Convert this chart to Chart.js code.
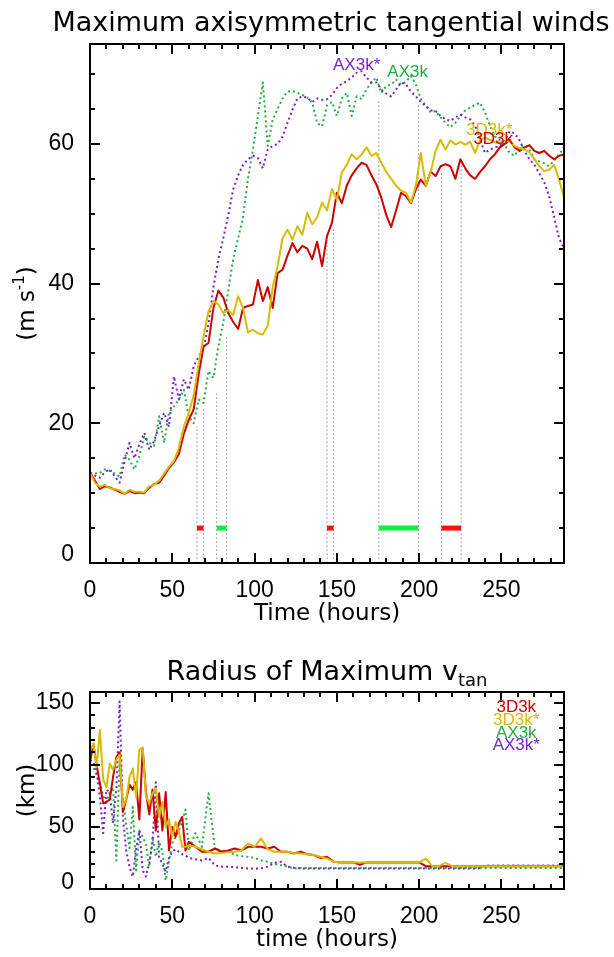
<!DOCTYPE html>
<html>
<head>
<meta charset="utf-8">
<title>Vientos tangenciales máximos</title>
<script src="https://cdn.jsdelivr.net/npm/chart.js@4.4.1/dist/chart.umd.min.js"></script>
<style>
  html, body { margin: 0; padding: 0; background: #fff; }
  #contenedor { position: relative; width: 614px; height: 957px; }
  canvas { position: absolute; left: 0; }
</style>
</head>
<body>
<div id="contenedor">
  <canvas id="graficoVientos" width="614" height="640" style="top:0"></canvas>
  <canvas id="graficoRadio" width="614" height="317" style="top:640px"></canvas>
</div>
<script>
// ---------------- Datos: panel superior (viento máximo, m/s) ----------------
const horasV = [
  0, 3, 6, 9, 12, 15, 18, 21, 24, 27,
  30, 33, 36, 39, 42, 45, 48, 51, 54, 57,
  60, 63, 66, 69, 72, 75, 78, 81, 84, 87,
  90, 93, 96, 99, 102, 105, 108, 111, 114, 117,
  120, 123, 126, 129, 132, 135, 138, 141, 144, 147,
  150, 153, 156, 159, 162, 165, 168, 171, 174, 177,
  180, 183, 186, 189, 192, 195, 198, 201, 204, 207,
  210, 213, 216, 219, 222, 225, 228, 231, 234, 237,
  240, 243, 246, 249, 252, 255, 258, 261, 264, 267,
  270, 273, 276, 279, 282, 285, 288
];
const v3D3k = [
  12.9, 11.8, 10.6, 11.0, 10.8, 10.5, 10.2, 9.9, 10.3, 10.0,
  10.1, 10.0, 10.8, 11.3, 11.5, 12.5, 13.6, 14.4, 15.6, 18.5,
  20.5, 22.0, 27.0, 31.0, 31.5, 36.5, 39.0, 38.0, 35.8, 34.5,
  33.5, 36.5, 36.8, 37.0, 40.5, 37.5, 39.5, 36.5, 41.5, 42.0,
  44.0, 45.8, 44.5, 45.4, 45.0, 43.5, 46.0, 42.5, 46.8, 48.7,
  53.0, 51.5, 54.0, 55.5, 56.5, 57.3, 57.0, 55.5, 54.2, 52.3,
  49.8, 48.1, 50.5, 53.0, 52.5, 51.5, 53.5, 54.9, 54.0, 56.0,
  55.4, 56.8, 57.1, 56.8, 55.0, 57.8, 56.5, 55.5, 55.0, 56.0,
  56.8, 57.8, 58.5, 59.5, 60.0, 60.6, 59.5, 59.0, 59.5, 59.8,
  59.0, 58.7, 59.0, 58.3, 57.8, 58.3, 58.5
];
const v3D3kEst = [
  12.9, 11.5, 10.9, 11.2, 10.7, 10.6, 10.4, 9.9, 10.5, 10.2,
  10.2, 10.1, 11.0, 11.2, 11.8, 12.8, 13.8, 14.6, 16.5, 19.5,
  21.5, 24.0, 28.5, 32.5, 36.0, 37.5, 37.0, 35.8, 36.2, 35.5,
  38.2, 36.5, 33.0, 33.4, 32.9, 32.7, 34.0, 39.5, 42.5, 46.5,
  47.7, 46.3, 48.2, 47.0, 50.1, 48.5, 49.5, 51.6, 50.5, 53.5,
  52.0, 55.9, 57.0, 58.5, 57.8, 58.5, 59.5, 58.3, 58.7, 57.3,
  56.0, 55.0, 54.0, 53.3, 53.0, 51.6, 54.0, 58.7, 54.0, 56.0,
  59.0, 60.6, 59.2, 60.5, 59.9, 60.3, 59.9, 60.3, 58.7, 60.5,
  60.9, 60.6, 60.2, 60.2, 60.3, 60.4, 59.7, 59.4, 59.2, 58.8,
  57.8, 56.8, 56.1, 56.3, 57.0, 54.9, 52.3
];
const vAX3k = [
  12.9, 12.8, 12.9, 13.4, 13.2, 12.8, 12.4, 15.5, 14.8, 13.4,
  15.3, 18.1, 17.2, 16.8, 21.0, 17.2, 21.5, 22.4, 23.4, 24.8,
  21.0, 20.0, 23.4, 22.9, 27.5, 26.5, 31.0, 34.5, 39.0, 43.5,
  46.5, 49.5, 55.0, 59.2, 64.0, 68.8, 59.7, 63.5, 65.0, 66.5,
  67.5, 67.6, 67.3, 67.0, 66.6, 65.9, 63.0, 62.5, 65.5, 66.0,
  64.0, 66.5, 67.3, 64.0, 66.8, 66.4, 67.8, 68.8, 69.5, 67.3,
  68.3, 68.5, 69.2, 68.5, 68.9, 69.7, 68.5, 66.4, 65.5, 64.5,
  64.7, 63.8, 63.0, 62.4, 63.0, 64.0, 64.8, 65.2, 65.6, 65.9,
  64.5, 62.6, 61.1, 60.5, 59.8, 58.7, 58.3, 59.5, 59.8, 59.2,
  57.8, 57.5, 57.2, 56.8, 57.6, 58.5, 59.5
];
const vAX3kEst = [
  12.9, 12.5, 12.2, 13.0, 13.4, 12.4, 11.5, 14.5, 17.2, 15.0,
  17.0, 18.6, 16.2, 17.5, 19.6, 21.5, 19.5, 26.7, 23.4, 26.3,
  24.8, 28.2, 29.5, 30.6, 34.3, 39.5, 43.5, 46.5, 49.8, 53.5,
  55.5, 57.0, 57.8, 58.3, 58.0, 56.5, 59.2, 59.7, 60.0, 61.0,
  63.0, 64.9, 66.5, 66.8, 66.6, 66.0, 66.5, 66.3, 66.4, 67.0,
  68.0, 68.6, 69.0, 69.5, 70.2, 70.4, 69.5, 68.8, 68.8, 67.8,
  67.2, 66.8, 67.8, 68.8, 68.5, 67.5, 66.8, 66.0, 65.4, 64.8,
  64.7, 64.0, 63.5, 63.3, 63.8, 64.2, 63.8, 63.5, 62.6, 60.6,
  58.7, 59.2, 59.5, 59.7, 60.5, 61.8, 61.5, 60.5, 59.0, 57.8,
  57.0, 55.8, 54.5, 52.5, 49.5, 46.5, 45.0
];

// Marcas de eventos: líneas verticales punteadas (hora y altura)
const eventoHoras = [65, 69, 77, 83, 144, 148, 175.5, 199.5, 213.5, 225.5];
const eventoTopes = [19.6, 22.2, 24.6, 32.3, 47.0, 48.0, 66.4, 65.7, 56.1, 57.5];
// Barras horizontales de los periodos
const barraInicio = [65, 77, 144, 175.5, 213.5];
const barraFin = [69, 83, 148, 199.5, 225.5];
const barraTipo = ['3D', 'AX', '3D', 'AX', '3D'];
const barraNivel = 5;

// ---------------- Datos: panel inferior (radio del máximo, km) ----------------
const horasR = [
  0, 2, 4, 6, 8, 10, 12, 14, 16, 18,
  20, 22, 24, 26, 28, 30, 32, 34, 36, 38,
  40, 42, 44, 46, 48, 50, 52, 54, 56, 58,
  60,
  64, 68, 72, 76, 80, 84, 88, 92, 96, 100,
  104, 108, 112, 116, 120, 124, 128, 132, 136, 140,
  144, 148, 152, 156, 160, 164, 168, 172, 176, 180,
  184, 188, 192, 196, 200, 204, 208, 212, 216, 220,
  224, 228, 232, 236, 240, 244, 248, 252, 256, 260,
  264, 268, 272, 276, 280, 284, 288
];
const r3D3k = [
  102, 117, 100, 85, 69, 70, 72, 90, 106, 110,
  62, 72, 84, 80, 86, 56, 113, 78, 60, 80,
  47, 77, 47, 78, 31, 50, 42, 53, 58, 31,
  38,
  34, 30, 30, 32.6, 30, 31, 32.6, 31, 34, 34,
  34, 32.6, 34, 30, 30, 28.6, 30, 28, 27.3, 25,
  25.9, 22, 21.4, 21.4, 21.4, 19.5, 21.4, 21.4, 21.4, 21.4,
  21.4, 21.4, 21.4, 21.4, 21.4, 18.4, 18.4, 18.4, 18.4, 18.4,
  18.4, 18.4, 18.4, 18.4, 18.4, 18.4, 18.4, 18.4, 18.4, 18.4,
  18.4, 18.4, 18.4, 18.4, 18.4, 18.4, 18.4
];
const r3D3kEst = [
  110, 117, 98, 128, 88, 82, 101, 96, 104, 108,
  66, 72, 90, 97, 74, 112, 114, 75, 69, 77,
  81, 58, 70, 50, 56, 42, 54, 46, 34, 34,
  35,
  34, 32, 30, 28.6, 29, 29.5, 30, 31, 36.7, 34,
  40.7, 32, 30, 30, 30, 29, 28.6, 28, 27.3, 25.9,
  24.6, 22, 21.4, 21.4, 21.4, 21.4, 21.4, 21.4, 21.4, 21.4,
  21.4, 21.4, 21.4, 21.4, 21.4, 24.5, 18.4, 18.4, 21, 18.4,
  18.4, 18.4, 18.4, 18.4, 18.4, 18.4, 18.4, 18.4, 18.4, 18.4,
  18.4, 18.4, 18.4, 18.4, 18.4, 18.4, 18.4
];
const rAX3k = [
  100, 98, 92, 85, 75, 70, 78, 82, 23, 104,
  72, 52, 33, 66, 15, 47, 42, 36, 18, 42,
  26, 38, 30, 7, 22, 37, 42, 47, 55, 64,
  31,
  45, 34, 77, 31, 31, 30, 27.3, 26.5, 25.9, 25,
  23, 21.9, 20, 19.2, 18, 16.6, 17, 17, 17, 17,
  17, 17, 17, 17, 17, 17, 17, 17, 17, 17,
  17, 17, 17, 17, 17, 17, 17, 17, 17, 17,
  17, 17, 17, 17, 17, 17, 17, 17, 17, 17,
  17, 17, 17, 17, 17, 17, 17
];
const rAX3kEst = [
  104, 102, 95, 74, 45, 80, 78, 53, 80, 151,
  58, 31, 18, 10, 32, 47, 15, 10, 21, 37,
  86, 26, 20, 14, 25, 30, 32, 30, 28, 27,
  25,
  24, 23, 25, 19, 18, 18, 17.5, 17, 16.6, 16.6,
  16.6, 18, 21, 22, 18, 17, 16.6, 16.6, 16.6, 16.6,
  16.6, 16.6, 16.6, 16.6, 16.6, 16.6, 16.6, 16.6, 16.6, 16.6,
  16.6, 16.6, 16.6, 16.6, 16.6, 16.6, 16.6, 16.6, 16.6, 16.6,
  16.6, 16.6, 16.6, 16.6, 19, 19, 19, 19, 19, 19,
  19, 19, 19, 19, 19, 19, 19
];

// Etiquetas de los ejes
const ticksHoras = [0, 50, 100, 150, 200, 250];
const ticksVientos = [0, 20, 40, 60];
const ticksRadio = [0, 50, 100, 150];

// ---------------- Estilos ----------------
const fuenteTexto = "'DejaVu Sans', sans-serif";
const fuenteNum = "'Liberation Sans', Arial, sans-serif";
const colores = {
  rojo: '#cc0000',
  amarillo: '#d8bc00',
  verde: '#1fb040',
  morado: '#7a1fd0',
  gris: '#8a8a8a',
  barraRoja: '#ff1010',
  barraVerde: '#10f040'
};

// Textos de las series dentro de cada panel (posición en unidades de datos)
const etiquetasVientos = [
  { texto: 'AX3k*', color: colores.morado, t: 162, v: 70.6 },
  { texto: 'AX3k', color: colores.verde, t: 193, v: 69.6 },
  { texto: '3D3k*', color: colores.amarillo, t: 242.5, v: 61.3 },
  { texto: '3D3k', color: colores.rojo, t: 245, v: 60.0 }
];
const etiquetasRadio = [
  { texto: '3D3k', color: colores.rojo, t: 259, v: 142.5 },
  { texto: '3D3k*', color: colores.amarillo, t: 259, v: 132.0 },
  { texto: 'AX3k', color: colores.verde, t: 259, v: 121.6 },
  { texto: 'AX3k*', color: colores.morado, t: 259, v: 111.9 }
];

// Construye un dataset de línea a partir de horas y valores
function serie(horas, valores, color, punteada, orden) {
  return {
    data: horas.map((t, i) => ({ x: t, y: valores[i] })),
    borderColor: color,
    borderWidth: 2,
    borderDash: punteada ? [2, 3] : [],
    borderJoinStyle: 'round',
    pointRadius: 0,
    tension: 0,
    order: orden
  };
}

// Marco cerrado con marcas hacia adentro en los cuatro lados (estilo IDL)
const marcoIDL = {
  id: 'marcoIDL',
  afterDatasetsDraw(chart, args, opts) {
    const { ctx, chartArea: a, scales: { x, y } } = chart;
    const esMayor = (v, paso) => Math.abs(v / paso - Math.round(v / paso)) < 1e-6;
    ctx.save();
    ctx.strokeStyle = '#000';
    ctx.lineWidth = 2;
    ctx.beginPath();
    for (let v = x.min; v <= x.max + 1e-6; v += opts.xMenor) {
      const px = Math.round(x.getPixelForValue(v));
      const largo = esMayor(v, opts.xMayor) ? 10 : 5;
      ctx.moveTo(px, a.bottom); ctx.lineTo(px, a.bottom - largo);
      ctx.moveTo(px, a.top); ctx.lineTo(px, a.top + largo);
    }
    for (let v = y.min; v <= y.max + 1e-6; v += opts.yMenor) {
      const py = Math.round(y.getPixelForValue(v));
      const largo = esMayor(v, opts.yMayor) ? 10 : 5;
      ctx.moveTo(a.left, py); ctx.lineTo(a.left + largo, py);
      ctx.moveTo(a.right, py); ctx.lineTo(a.right - largo, py);
    }
    ctx.stroke();
    ctx.strokeRect(a.left, a.top, a.right - a.left, a.bottom - a.top);
    ctx.restore();
  }
};

// Texto vertical compuesto por partes (para superíndices)
function tituloVertical(ctx, cx, cy, partes) {
  ctx.save();
  ctx.translate(cx, cy);
  ctx.rotate(-Math.PI / 2);
  ctx.textAlign = 'left';
  ctx.textBaseline = 'middle';
  ctx.fillStyle = '#000';
  let ancho = 0;
  partes.forEach(p => {
    ctx.font = `${p.size}px ${fuenteTexto}`;
    p.w = ctx.measureText(p.texto).width;
    ancho += p.w;
  });
  let xx = -ancho / 2;
  partes.forEach(p => {
    ctx.font = `${p.size}px ${fuenteTexto}`;
    ctx.fillText(p.texto, xx, p.dy || 0);
    xx += p.w;
  });
  ctx.restore();
}

function etiquetasSeries(ctx, x, y, lista) {
  ctx.font = `17px ${fuenteNum}`;
  ctx.textAlign = 'center';
  ctx.textBaseline = 'alphabetic';
  lista.forEach(e => {
    ctx.fillStyle = e.color;
    ctx.fillText(e.texto, x.getPixelForValue(e.t), y.getPixelForValue(e.v));
  });
}

// Opciones comunes de ejes; el "0" del eje y va un poco más arriba
function opcionesEjes(ticksX, ticksY, maxY, altoX, fontZeroLh) {
  const fuenteTicks = { family: fuenteNum, size: 23 };
  return {
    x: {
      type: 'linear', min: 0, max: 288,
      grid: { display: false }, border: { display: false },
      afterBuildTicks: s => { s.ticks = ticksX.map(v => ({ value: v })); },
      ticks: { color: '#000', padding: 6, maxRotation: 0, autoSkip: false, font: fuenteTicks },
      afterFit: s => { s.height = altoX; }
    },
    y: {
      type: 'linear', min: 0, max: maxY,
      grid: { display: false }, border: { display: false },
      afterBuildTicks: s => { s.ticks = ticksY.map(v => ({ value: v })); },
      ticks: {
        color: '#000', padding: 8, autoSkip: false,
        callback: v => (v === 0 ? ['0', ''] : String(v)),
        font: c => ({ family: fuenteNum, size: 23, lineHeight: c.tick && c.tick.value === 0 ? fontZeroLh : 1.2 })
      },
      afterFit: s => { s.width = 90; }
    }
  };
}

// Genera los dos paneles
function generarGraficos() {
  const eventos = eventoHoras.map((t, i) => ({
    data: [{ x: t, y: 0 }, { x: t, y: eventoTopes[i] }],
    borderColor: colores.gris, borderWidth: 1, borderDash: [1.5, 2.5],
    pointRadius: 0, order: 9
  }));
  const barras = barraInicio.map((t0, i) => ({
    data: [{ x: t0, y: barraNivel }, { x: barraFin[i], y: barraNivel }],
    borderColor: barraTipo[i] === '3D' ? colores.barraRoja : colores.barraVerde,
    borderWidth: 5, borderCapStyle: 'butt', pointRadius: 0, order: 8
  }));

  new Chart(document.getElementById('graficoVientos'), {
    type: 'line',
    data: {
      datasets: [
        serie(horasV, v3D3kEst, colores.amarillo, false, 1),
        serie(horasV, v3D3k, colores.rojo, false, 2),
        serie(horasV, vAX3kEst, colores.morado, true, 3),
        serie(horasV, vAX3k, colores.verde, true, 4),
        ...barras,
        ...eventos
      ]
    },
    options: {
      responsive: false,
      animation: false,
      devicePixelRatio: 1,
      events: [],
      layout: { padding: { top: 44, right: 50, left: 0, bottom: 0 } },
      plugins: {
        legend: { display: false },
        tooltip: { enabled: false },
        marcoIDL: { xMayor: 50, xMenor: 10, yMayor: 20, yMenor: 5 }
      },
      scales: opcionesEjes(ticksHoras, ticksVientos, 74.3, 77, 0.7)
    },
    plugins: [marcoIDL, {
      id: 'textosVientos',
      afterDraw(chart) {
        const { ctx, chartArea: a, scales: { x, y } } = chart;
        ctx.save();
        ctx.fillStyle = '#000';
        ctx.textAlign = 'center';
        ctx.textBaseline = 'alphabetic';
        ctx.font = `27px ${fuenteTexto}`;
        ctx.fillText('Maximum axisymmetric tangential winds', 331, 31);
        ctx.font = `23px ${fuenteTexto}`;
        ctx.fillText('Time (hours)', (a.left + a.right) / 2, a.bottom + 57);
        etiquetasSeries(ctx, x, y, etiquetasVientos);
        ctx.restore();
        tituloVertical(ctx, 28, (a.top + a.bottom) / 2, [
          { texto: '(m s', size: 23 },
          { texto: '-1', size: 15, dy: -8 },
          { texto: ')', size: 23 }
        ]);
      }
    }]
  });

  new Chart(document.getElementById('graficoRadio'), {
    type: 'line',
    data: {
      datasets: [
        serie(horasR, r3D3kEst, colores.amarillo, false, 1),
        serie(horasR, r3D3k, colores.rojo, false, 2),
        serie(horasR, rAX3kEst, colores.morado, true, 3),
        serie(horasR, rAX3k, colores.verde, true, 4)
      ]
    },
    options: {
      responsive: false,
      animation: false,
      devicePixelRatio: 1,
      events: [],
      layout: { padding: { top: 52, right: 50, left: 0, bottom: 0 } },
      plugins: {
        legend: { display: false },
        tooltip: { enabled: false },
        marcoIDL: { xMayor: 50, xMenor: 10, yMayor: 50, yMenor: 10 }
      },
      scales: opcionesEjes(ticksHoras, ticksRadio, 158.6, 68, 0.52)
    },
    plugins: [marcoIDL, {
      id: 'textosRadio',
      afterDraw(chart) {
        const { ctx, chartArea: a, scales: { x, y } } = chart;
        ctx.save();
        ctx.fillStyle = '#000';
        ctx.textBaseline = 'alphabetic';
        // Título con subíndice
        ctx.font = `27px ${fuenteTexto}`;
        const principal = 'Radius of Maximum v';
        const w1 = ctx.measureText(principal).width;
        ctx.font = `18px ${fuenteTexto}`;
        const w2 = ctx.measureText('tan').width;
        const x0 = 327 - (w1 + w2) / 2;
        ctx.textAlign = 'left';
        ctx.font = `27px ${fuenteTexto}`;
        ctx.fillText(principal, x0, 40);
        ctx.font = `18px ${fuenteTexto}`;
        ctx.fillText('tan', x0 + w1, 46);
        ctx.textAlign = 'center';
        ctx.font = `23px ${fuenteTexto}`;
        ctx.fillText('time (hours)', (a.left + a.right) / 2, a.bottom + 57);
        etiquetasSeries(ctx, x, y, etiquetasRadio);
        ctx.restore();
        tituloVertical(ctx, 28, (a.top + a.bottom) / 2, [{ texto: '(km)', size: 23 }]);
      }
    }]
  });
}

document.addEventListener('DOMContentLoaded', generarGraficos);
</script>
</body>
</html>
